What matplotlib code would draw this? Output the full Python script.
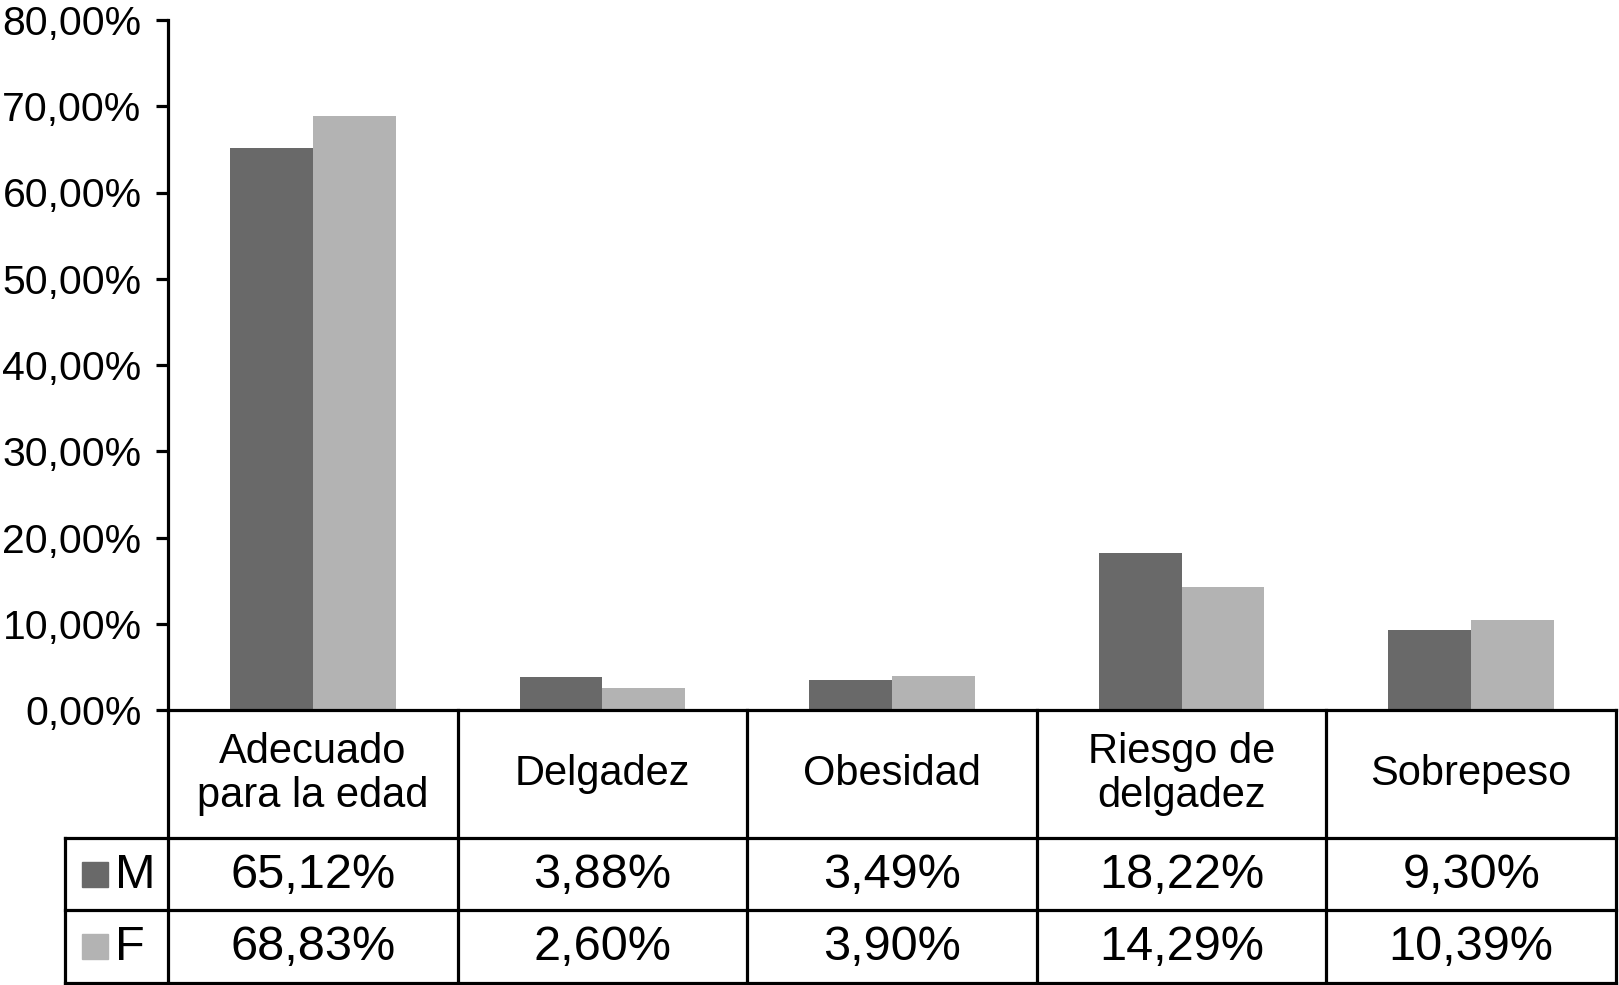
import matplotlib
matplotlib.use("Agg")
from matplotlib import pyplot as plt
from matplotlib.patches import Rectangle

plt.rcParams['font.family'] = ['Liberation Sans', 'DejaVu Sans']

categories = ["Adecuado\npara la edad", "Delgadez", "Obesidad", "Riesgo de\ndelgadez", "Sobrepeso"]
series_names = ["M", "F"]
m_values = [65.12, 3.88, 3.49, 18.22, 9.30]
f_values = [68.83, 2.60, 3.90, 14.29, 10.39]
yticks = [0, 10, 20, 30, 40, 50, 60, 70, 80]

colors = ["#696969", "#b3b3b3"]
W, H = 1619, 985
lw = 2.3

def pct(v):
    return f"{v:.2f}".replace('.', ',') + '%'

fig = plt.figure(figsize=(W / 100, H / 100), dpi=100)

# pixel layout
ax_left, ax_right = 168, 1616
y_top, y_zero = 20, 710
leg_left = 65
row_lines = [710, 838, 910, 983]

# bar chart
ax = fig.add_axes([ax_left / W, 1 - y_zero / H, (ax_right - ax_left) / W, (y_zero - y_top) / H])
x = list(range(len(categories)))
bw = 0.286
ax.bar([i - bw / 2 for i in x], m_values, width=bw, color=colors[0], zorder=2)
ax.bar([i + bw / 2 for i in x], f_values, width=bw, color=colors[1], zorder=2)
ax.set_xlim(-0.5, len(categories) - 0.5)
ax.set_ylim(0, 80)
ax.set_yticks(yticks)
ax.set_yticklabels([pct(v) for v in yticks], fontsize=29.5)
ax.set_xticks([])
for s in ["top", "right", "bottom"]:
    ax.spines[s].set_visible(False)
ax.spines["left"].set_linewidth(lw)
ax.tick_params(axis='y', length=9, width=lw, pad=10, direction='out')

# data table drawn below the axis
unit = (ax_right - ax_left) / len(categories)
leg_w = (ax_left - leg_left) / unit
tx = fig.add_axes([leg_left / W, 1 - row_lines[-1] / H, (ax_right - leg_left) / W, (row_lines[-1] - row_lines[0]) / H])
tx.set_xlim(-0.5 - leg_w, len(categories) - 0.5)
tx.set_ylim(row_lines[-1], row_lines[0])
tx.axis('off')

x0, x1 = -0.5 - leg_w, len(categories) - 0.5
line_kw = dict(color="black", linewidth=lw, solid_capstyle='projecting', clip_on=False)
tx.plot([-0.5, x1], [row_lines[0]] * 2, **line_kw)
for yl in row_lines[1:]:
    tx.plot([x0, x1], [yl, yl], **line_kw)
for i in range(len(categories) + 1):
    tx.plot([i - 0.5, i - 0.5], [row_lines[0], row_lines[-1]], **line_kw)
tx.plot([x0, x0], [row_lines[1], row_lines[-1]], **line_kw)

hy = (row_lines[0] + row_lines[1]) / 2
for i, c in enumerate(categories):
    tx.text(i, hy, c, ha='center', va='center', fontsize=30, linespacing=1.1)

for r, (name, vals) in enumerate(zip(series_names, [m_values, f_values])):
    cy = (row_lines[r + 1] + row_lines[r + 2]) / 2
    for i, v in enumerate(vals):
        tx.text(i, cy + 1, pct(v), ha='center', va='center', fontsize=35)
    sq = 26 / unit
    tx.add_patch(Rectangle((x0 + 17 / unit, cy - 12.5), sq, 25, color=colors[r], clip_on=False))
    tx.text(x0 + 50 / unit, cy + 1, name, ha='left', va='center', fontsize=35)

fig.savefig("out.png", dpi=100)
